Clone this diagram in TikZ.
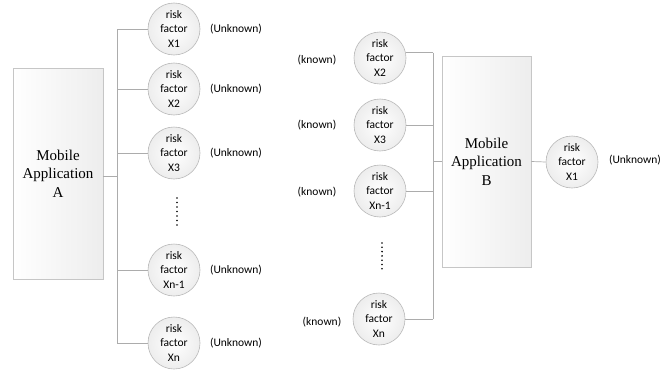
\documentclass[tikz,border=0pt]{standalone}
\usepackage{fontspec}
\setmainfont{Liberation Serif}
\newfontfamily\calfont{Carlito}
\tikzset{
  line/.style={draw=gray!65, line width=0.7pt},
  rf/.style={circle, draw=gray!55, line width=0.6pt, inner color=white, outer color=gray!14,
    minimum size=52pt, inner sep=0pt, align=center,
    font=\calfont\fontsize{11.5}{14.5}\selectfont},
  app/.style={rectangle, draw=gray!45, line width=0.8pt, left color=white, right color=gray!14,
    inner sep=0pt, align=center, font=\fontsize{15}{18.5}\selectfont},
  lbl/.style={font=\calfont\fontsize{11.5}{13}\selectfont, inner sep=0pt},
  dotsty/.style={fill=black, circle, inner sep=0pt, minimum size=1.8pt}
}
\begin{document}
\begin{tikzpicture}[x=1pt,y=-1pt]
\useasboundingbox (0,0) rectangle (669,372);
% left part
\node[app, minimum width=90pt, minimum height=211pt] (A) at (58,173.5) {Mobile\\Application\\A};
\node[rf] (L1) at (174,29) {risk\\factor\\X1};
\node[rf] (L2) at (174,89) {risk\\factor\\X2};
\node[rf] (L3) at (174,153) {risk\\factor\\X3};
\node[rf] (L4) at (174,270) {risk\\factor\\Xn-1};
\node[rf] (L5) at (174,343) {risk\\factor\\Xn};
\foreach \n/\y in {1/29,2/89,3/153,4/270,5/343}
  \node[lbl] (U\n) at (236,\y) {(Unknown)};
\foreach \k in {0,...,6}
  \node[dotsty] (da\k) at (177,{198+4.5*\k}) {};
\coordinate (busA) at (117,0);
\draw[line] (busA |- L1.west) -- (busA |- L5.west);
\foreach \n in {1,2,3,4,5}
  \draw[line] (L\n.west) -- (L\n.west -| busA);
\draw[line] (A.east |- 0,176) -- (busA |- 0,176);
% right part
\node[app, minimum width=89pt, minimum height=211pt] (B) at (486.5,161.5) {Mobile\\Application\\B};
\node[rf] (R2) at (380,58) {risk\\factor\\X2};
\node[rf] (R3) at (380,125) {risk\\factor\\X3};
\node[rf] (R4) at (380,191) {risk\\factor\\Xn-1};
\node[rf] (R5) at (379,319) {risk\\factor\\Xn};
\node[rf] (R1) at (572,162) {risk\\factor\\X1};
\node[lbl] (K2) at (317,60) {(known)};
\node[lbl] (K3) at (317,125) {(known)};
\node[lbl] (K4) at (317,192) {(known)};
\node[lbl] (K5) at (322,322) {(known)};
\node[lbl] (UR) at (635,160) {(Unknown)};
\foreach \k in {0,...,6}
  \node[dotsty] (db\k) at (382,{243+4.3*\k}) {};
\coordinate (busB) at (433,0);
\draw[line] (busB |- R2.12) -- (busB |- R5.east);
\draw[line] (R2.12) -- (R2.12 -| busB);
\foreach \n in {3,4,5}
  \draw[line] (R\n.east) -- (R\n.east -| busB);
\draw[line] (busB |- B.west) -- (B.west);
\draw[line] (B.east) -- (R1.west);
\end{tikzpicture}
\end{document}
